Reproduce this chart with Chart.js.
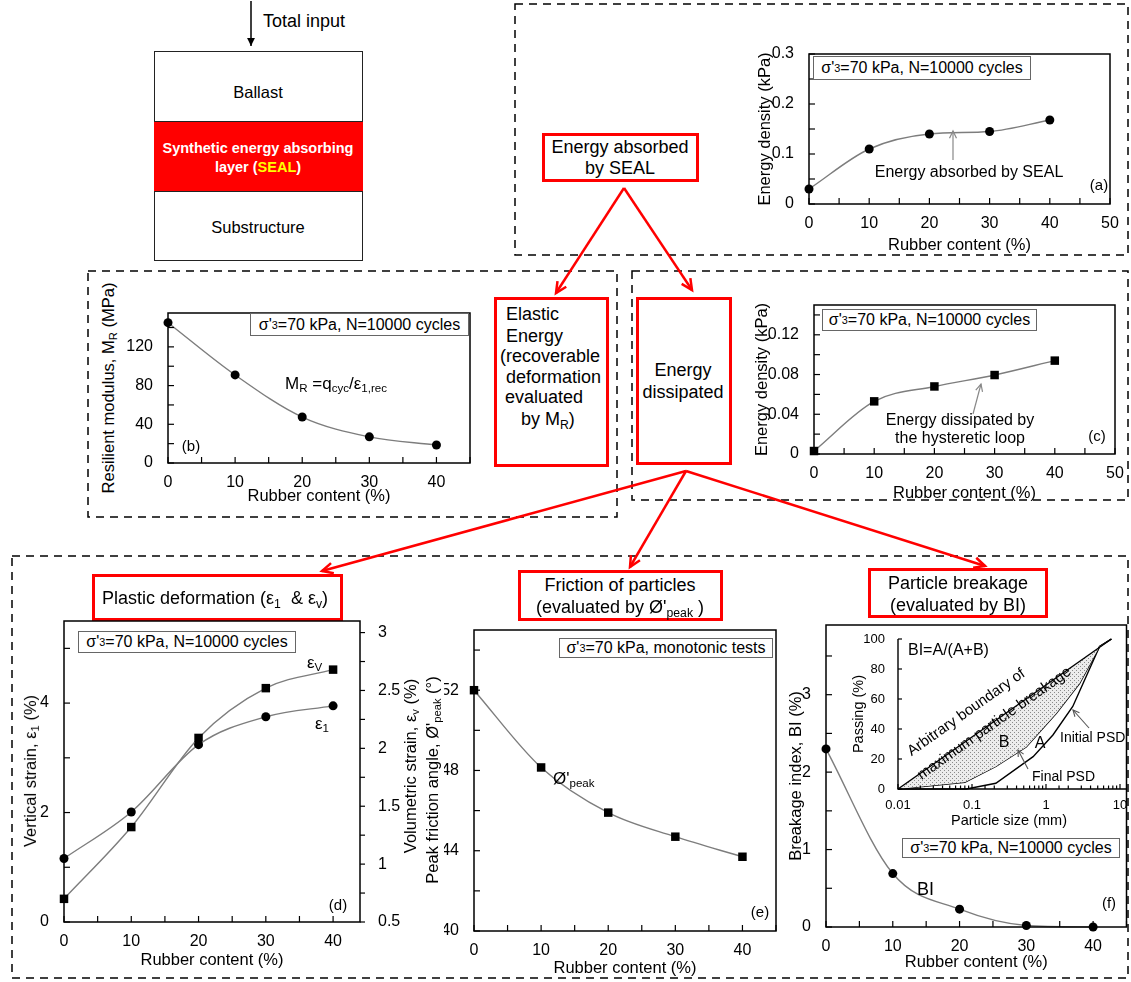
<!DOCTYPE html>
<html><head><meta charset="utf-8">
<script src="https://cdn.jsdelivr.net/npm/chart.js@4.4.1/dist/chart.umd.min.js"></script>
<style>
html,body{margin:0;padding:0;background:#fff;}
#root{position:relative;width:1131px;height:982px;overflow:hidden;font-family:"Liberation Sans",Arial,Helvetica,sans-serif;color:#000;}
canvas{position:absolute;z-index:3;}
.t{position:absolute;white-space:nowrap;line-height:1.1;}
.box{position:absolute;box-sizing:border-box;}
.note{position:absolute;box-sizing:border-box;border:1px solid #666;background:#fff;font-size:16px;white-space:nowrap;display:flex;align-items:center;justify-content:center;z-index:6;line-height:1;}
.red{position:absolute;box-sizing:border-box;border:3px solid #ff0000;background:#fff;z-index:2;}
sub{font-size:68%;vertical-align:-0.3em;line-height:0;}
svg{position:absolute;left:0;top:0;}
</style></head>
<body><div id="root"></div>
<script>
// ---------------- data ----------------
const rubberContent = [0, 10, 20, 30, 40];
const energyAbsorbed = [0.03, 0.11, 0.14, 0.145, 0.168];          // (a) kPa
const resilientModulus = [145, 91, 47.5, 27, 18.6];                // (b) MPa
const energyDissipated = [0.003, 0.053, 0.068, 0.0795, 0.094];     // (c) kPa
const verticalStrain = [1.16, 2.01, 3.24, 3.75, 3.95];             // (d) eps1 %
const volumetricStrain = [0.70, 1.32, 2.09, 2.52, 2.68];           // (d) epsv %
const peakFrictionAngle = [52.0, 48.15, 45.9, 44.7, 43.7];         // (e) deg
const breakageIndex = [2.3, 0.69, 0.23, 0.02, 0.0];                // (f) %
const boundarySize = [0.01, 7.65];
const boundaryPassing = [0, 100];
const finalPsdSize = [0.01, 0.08, 0.21, 0.54, 1.38, 2.85, 5.3, 7.65];
const finalPsdPassing = [0, 4.5, 15, 28, 50.5, 70.5, 95, 100];
const initialPsdSize = [0.01, 0.084, 0.21, 0.67, 1.24, 2.3, 5.3, 7.65];
const initialPsdPassing = [0, 0, 3.8, 21.6, 36, 55, 95, 100];
const insetSizeTicks = [0.01, 0.1, 1, 10];

// ---------------- helpers ----------------
const FONT = '"Liberation Sans", Arial, Helvetica, sans-serif';
const root = document.getElementById('root');

function el(tag, cls, css, html){
  const d=document.createElement(tag); if(cls) d.className=cls;
  Object.assign(d.style, css||{}); if(html!==undefined) d.innerHTML=html; root.appendChild(d); return d;
}
function T(html, x, y, o={}){
  const d=el('div','t',{left:x+'px',top:y+'px',fontSize:(o.fs||16)+'px',zIndex:o.z||7},html);
  let tr = o.left ? 'translate(0,-50%)' : 'translate(-50%,-50%)';
  if(o.rot) tr += ' rotate('+o.rot+'deg)';
  d.style.transform=tr;
  if(o.color) d.style.color=o.color;
  if(o.bold) d.style.fontWeight='bold';
  return d;
}
function majorCb(step){
  return function(v){ const k=v/step; return Math.abs(k-Math.round(k))<1e-6 ? String(+(+v).toFixed(4)) : ''; };
}
function logCb(v){
  const l=Math.log10(v);
  if(Math.abs(l-Math.round(l))>1e-6) return '';
  const m = insetSizeTicks.find(t=>Math.abs(Math.log10(t)-l)<1e-6);
  return m===undefined ? '' : String(m);
}
function decoPlugin(spec){
  return { id:'deco', afterDraw(chart){
    const ctx=chart.ctx, a=chart.chartArea;
    ctx.save(); ctx.strokeStyle='#000'; ctx.lineWidth=spec.lw||1.5;
    if(spec.frame){ ctx.strokeRect(a.left, a.top, a.right-a.left, a.bottom-a.top); }
    else { ctx.beginPath(); ctx.moveTo(a.left,a.top); ctx.lineTo(a.left,a.bottom); ctx.lineTo(a.right+(spec.ext||0),a.bottom); ctx.stroke(); }
    ctx.lineWidth=1.2;
    for(const t of spec.ticks){
      const s=chart.scales[t.id];
      s.ticks.forEach(tk=>{
        const p=s.getPixelForValue(tk.value);
        const len = (tk.label!=='' && tk.label!==undefined) ? t.len : (t.minor!==undefined ? t.minor : t.len);
        ctx.beginPath();
        if(t.side==='bottom'){ if(p<a.left-0.5||p>a.right+0.5) return; ctx.moveTo(p,a.bottom); ctx.lineTo(p,a.bottom-len); }
        else if(t.side==='left'){ if(p<a.top-0.5||p>a.bottom+0.5) return; ctx.moveTo(a.left,p); ctx.lineTo(a.left+len,p); }
        else if(t.side==='rightOut'){ if(p<a.top-0.5||p>a.bottom+0.5) return; ctx.moveTo(a.right,p); ctx.lineTo(a.right+len,p); }
        ctx.stroke();
      });
    }
    ctx.restore();
  }};
}
function axis(kind, o, fit){
  return {
    type:o.type||'linear', position:o.position||(kind==='x'?'bottom':'left'), min:o.min, max:o.max,
    ticks:{ stepSize:o.step, autoSkip:false, maxRotation:0, minRotation:0, includeBounds:false,
            padding:(o.pad!==undefined?o.pad:(kind==='x'?2:7)), color:'#000', font:{family:FONT,size:o.fs||16}, callback:o.cb },
    grid:{display:false}, border:{display:false},
    title: o.title ? {display:true,text:o.title,color:'#000',font:{family:FONT,size:o.tfs||16.5,lineHeight:1.2},padding:0} : {display:false},
    afterFit: fit
  };
}
function makeChart(box, plot, datasets, sc, deco){
  const cv=document.createElement('canvas');
  const W=box.r-box.l, H=box.b-box.t;
  cv.width=W; cv.height=H;
  Object.assign(cv.style,{left:box.l+'px',top:box.t+'px',width:W+'px',height:H+'px'});
  root.appendChild(cv);
  const scales={
    x: axis('x', sc.x, s=>{ s.height = box.b-plot.b; }),
    y: axis('y', sc.y, s=>{ s.width = plot.l-box.l; })
  };
  if(sc.y2) scales.y2 = axis('y', Object.assign({position:'right'}, sc.y2), s=>{ s.width = box.r-plot.r; });
  return new Chart(cv,{type:'line',data:{datasets},options:{
    responsive:false, maintainAspectRatio:false, animation:false, devicePixelRatio:1, events:[],
    layout:{padding:{left:0, right: sc.y2?0:(box.r-plot.r), top: plot.t-box.t, bottom:0}},
    plugins:{legend:{display:false}, tooltip:{enabled:false}},
    scales
  }, plugins:[decoPlugin(deco)]});
}
function series(xs, ys, style){
  return Object.assign({
    data: xs.map((x,i)=>({x, y: ys[i]})),
    borderColor:'#7d7d7d', borderWidth:1.4,
    pointBackgroundColor:'#000', pointBorderColor:'#000', pointBorderWidth:0,
    pointRadius:4.5, pointStyle:'circle',
    cubicInterpolationMode:'monotone', clip:false, fill:false
  }, style||{});
}
const SQ = {pointStyle:'rect', pointRadius:6};

// ---------------- background svg: dashed boxes ----------------
const svgBg = el('div',null,{position:'absolute',left:'0px',top:'0px',zIndex:0});
svgBg.innerHTML = '<svg width="1131" height="982" xmlns="http://www.w3.org/2000/svg">'+
 ['515,4,613,251','88,271,529,246','632,271,496,229','12,556,1116,422'].map(s=>{
   const [x,y,w,h]=s.split(','); return '<rect x="'+x+'" y="'+y+'" width="'+w+'" height="'+h+'" fill="none" stroke="#000" stroke-width="1.5" stroke-dasharray="8 6"/>';
 }).join('')+'</svg>';

// ---------------- layer diagram ----------------
el('div','box',{left:'154px',top:'51px',width:'209px',height:'210px',border:'1.5px solid #222',background:'#fff',zIndex:1});
el('div','box',{left:'154px',top:'121px',width:'209px',height:'71px',background:'#ff0000',borderTop:'1.5px solid #222',borderBottom:'1.5px solid #222',zIndex:1});
T('Ballast',258,92,{fs:16.5});
T('Synthetic energy absorbing',258,149,{fs:14.5,bold:true,color:'#fff'});
T('layer (<span style="color:#ffff00">SEAL</span>)',258,168,{fs:14.5,bold:true,color:'#fff'});
T('Substructure',258,227,{fs:16.5});
T('Total input',263,22,{fs:18,left:true});

// ---------------- red boxes ----------------
function redBox(l,t,r,b){ el('div','red',{left:l+'px',top:t+'px',width:(r-l)+'px',height:(b-t)+'px'}); }
redBox(542,133,699,182);
T('Energy absorbed',620,148,{fs:18}); T('by SEAL',620,169,{fs:18});
redBox(494,297,609,467);
[['Elastic',506,315],['Energy',506,337],['(recoverable',500,357],['deformation',506,378],['evaluated',505,398],['by M<sub>R</sub>)',521,420]]
  .forEach(([s,x,y])=>T(s,x,y,{fs:18,left:true}));
redBox(636,297,732,465);
T('Energy',683,371,{fs:18}); T('dissipated',683,393,{fs:18});
redBox(92,574,343,621);
T('Plastic deformation (ε<sub>1</sub>&nbsp; &amp; ε<sub>v</sub>)',102,599,{fs:18,left:true});
redBox(518,570,723,621);
T('Friction of particles',620,586,{fs:18}); T('(evaluated by Ø\'<sub>peak</sub> )',620,608,{fs:18});
redBox(868,568,1048,618);
T('Particle breakage',958,584,{fs:18}); T('(evaluated by BI)',958,606,{fs:18});

// ---------------- charts ----------------
// (a)
makeChart({l:756,t:34,r:1130,b:255},{l:809,t:54,r:1110,b:204},
  [series(rubberContent, energyAbsorbed)],
  {x:{min:0,max:50,step:5,cb:majorCb(10),title:'Rubber content (%)'},
   y:{min:0,max:0.3,step:0.05,cb:majorCb(0.1),title:'Energy density (kPa)'}},
  {frame:true,ticks:[{id:'x',side:'bottom',len:6},{id:'y',side:'left',len:6}]});
// (b)
makeChart({l:120,t:293,r:490,b:506},{l:168,t:313,r:470,b:463},
  [series(rubberContent, resilientModulus)],
  {x:{min:0,max:45,step:5,cb:majorCb(10),title:'Rubber content (%)'},
   y:{min:0,max:155,step:20,cb:majorCb(40)}},
  {frame:true,ticks:[{id:'x',side:'bottom',len:6},{id:'y',side:'left',len:6}]});
// (c)
makeChart({l:753,t:285,r:1131,b:503},{l:814,t:305,r:1115,b:454},
  [series(rubberContent, energyDissipated, SQ)],
  {x:{min:0,max:50,step:5,cb:majorCb(10),title:'Rubber content (%)'},
   y:{min:0,max:0.15,step:0.02,cb:majorCb(0.04),title:'Energy density (kPa)'}},
  {frame:true,ticks:[{id:'x',side:'bottom',len:6},{id:'y',side:'left',len:6}]});
// (d)
makeChart({l:14,t:601,r:402,b:970},{l:64,t:621,r:360,b:922},
  [series(rubberContent, verticalStrain),
   series(rubberContent, volumetricStrain, Object.assign({yAxisID:'y2'},SQ))],
  {x:{min:0,max:44,step:5,cb:majorCb(10),title:'Rubber content (%)'},
   y:{min:0,max:5.5,step:1,cb:majorCb(2)},
   y2:{min:0.5,max:3.1,step:0.25,cb:majorCb(0.5),pad:10}},
  {frame:true,ticks:[{id:'x',side:'bottom',len:6},{id:'y',side:'left',len:6},{id:'y2',side:'rightOut',len:5}]});
// (e)
makeChart({l:444,t:610,r:796,b:978},{l:474,t:630,r:776,b:931},
  [series(rubberContent, peakFrictionAngle, SQ)],
  {x:{min:0,max:45,step:5,cb:majorCb(10),title:'Rubber content (%)'},
   y:{min:40,max:55,step:2,cb:majorCb(4)}},
  {frame:true,ticks:[{id:'x',side:'bottom',len:6},{id:'y',side:'left',len:6}]});
// (f)
makeChart({l:787,t:605,r:1131,b:972},{l:826,t:625,r:1128,b:927},
  [series(rubberContent, breakageIndex)],
  {x:{min:0,max:45,step:5,cb:majorCb(10),title:'Rubber content (%)'},
   y:{min:0,max:3.9,step:0.5,cb:majorCb(1),title:'Breakage index, BI (%)'}},
  {frame:true,ticks:[{id:'x',side:'bottom',len:6},{id:'y',side:'left',len:6}]});
// (f) inset
const pc=document.createElement('canvas'); pc.width=4; pc.height=4;
const pctx=pc.getContext('2d'); pctx.fillStyle='#ececec'; pctx.fillRect(0,0,4,4);
pctx.fillStyle='#8a8a8a'; pctx.fillRect(0,0,1,1); pctx.fillRect(2,2,1,1);
const dots = pctx.createPattern(pc,'repeat');
const thin = {borderColor:'#000',borderWidth:1.4,pointRadius:0,tension:0,cubicInterpolationMode:'default'};
makeChart({l:850,t:620,r:1131,b:830},{l:898,t:639,r:1120,b:789},
  [series(boundarySize, boundaryPassing, Object.assign({fill:1, backgroundColor:dots},thin)),
   series(finalPsdSize, finalPsdPassing, thin),
   series(initialPsdSize, initialPsdPassing, thin)],
  {x:{type:'logarithmic',min:0.01,max:10,cb:logCb,fs:13,pad:1,title:'Particle size (mm)',tfs:14.5},
   y:{min:0,max:100,step:20,cb:majorCb(20),fs:13,pad:5,title:'Passing (%)',tfs:14.5}},
  {frame:false,lw:1.4,ext:7,ticks:[{id:'x',side:'bottom',len:5,minor:3.5},{id:'y',side:'left',len:4}]});

// ---------------- annotations ----------------
function note(l,t,r,b,html){ el('div','note',{left:l+'px',top:t+'px',width:(r-l)+'px',height:(b-t)+'px'},html); }
const sig = 'σ\'<sub>3</sub>=70 kPa, ';
note(813,56,1031,80, sig+'N=10000 cycles');
note(250,313,469,336, sig+'N=10000 cycles');
note(822,309,1037,331, sig+'N=10000 cycles');
note(78,631,296,653, sig+'N=10000 cycles');
note(559,638,773,658, sig+'monotonic tests');
note(902,838,1120,858, sig+'N=10000 cycles');

T('Energy absorbed by SEAL',969,172,{fs:16});
T('Energy dissipated by',960,420,{fs:16}); T('the hysteretic loop',960,438,{fs:16});
T('M<sub>R</sub> =q<sub>cyc</sub>/ε<sub>1,rec</sub>',285,384,{fs:17,left:true});
T('(a)',1099,185,{fs:15}); T('(b)',191,446,{fs:15}); T('(c)',1097,436,{fs:15});
T('(d)',338,905,{fs:15}); T('(e)',760,912,{fs:15}); T('(f)',1109,903,{fs:15});
T('ε<sub>V</sub>',307,663,{fs:17,left:true}); T('ε<sub>1</sub>',315,724,{fs:17,left:true});
T('Ø\'<sub>peak</sub>',553,779,{fs:17,left:true});
T('BI',917,890,{fs:18,left:true});
T('BI=A/(A+B)',908,650,{fs:16,left:true});
T('B',1004,742,{fs:16}); T('A',1040,743,{fs:16});
T('Initial PSD',1060,738,{fs:14,left:true}); T('Final PSD',1032,777,{fs:14,left:true});
T('Arbitrary boundary of',966,712,{fs:15,rot:-35.2});
T('maximum particle breakage',994,723,{fs:15,rot:-35.2});
// rotated y titles with subscripts
T('Resilient modulus, M<sub>R</sub> (MPa)',108,388,{fs:16.5,rot:-90});
T('Vertical strain, ε<sub>1</sub> (%)',30,771,{fs:16.5,rot:-90});
T('Volumetric strain, ε<sub>v</sub> (%)',410,766,{fs:16.5,rot:-90});
T('Peak friction angle, Ø\'<sub>peak</sub> (°)',432,780,{fs:16.5,rot:-90});

// ---------------- arrows ----------------
function arrowSvg(x1,y1,x2,y2,color,w,head,filled){
  const a=Math.atan2(y2-y1,x2-x1), s=0.45;
  const p1=[x2-head*Math.cos(a-s), y2-head*Math.sin(a-s)], p2=[x2-head*Math.cos(a+s), y2-head*Math.sin(a+s)];
  let str='<line x1="'+x1+'" y1="'+y1+'" x2="'+x2+'" y2="'+y2+'" stroke="'+color+'" stroke-width="'+w+'"/>';
  if(filled) str+='<polygon points="'+p1.join(',')+' '+x2+','+y2+' '+p2.join(',')+'" fill="'+color+'"/>';
  else str+='<polyline points="'+p1.join(',')+' '+x2+','+y2+' '+p2.join(',')+'" fill="none" stroke="'+color+'" stroke-width="'+w+'" stroke-linejoin="miter"/>';
  return str;
}
const arrows = [
  arrowSvg(251,1,251,46,'#000',1.5,9,true),
  arrowSvg(624,188,556,293,'#ff0000',2.5,12,false),
  arrowSvg(624,188,692,290,'#ff0000',2.5,12,false),
  arrowSvg(686,471,322,571,'#ff0000',2.5,12,false),
  arrowSvg(686,471,630,567,'#ff0000',2.5,12,false),
  arrowSvg(686,471,985,566,'#ff0000',2.5,12,false),
  arrowSvg(953,160,953,131,'#888',1.2,8,false),
  arrowSvg(973,414,981,384,'#888',1.2,8,false),
  arrowSvg(1089,728,1073,710,'#555',1.1,7,false),
  arrowSvg(1028,769,1018,750,'#555',1.1,7,false)
].join('');
const svgFg = el('div',null,{position:'absolute',left:'0px',top:'0px',zIndex:9,pointerEvents:'none'});
svgFg.innerHTML='<svg width="1131" height="982" xmlns="http://www.w3.org/2000/svg">'+arrows+'</svg>';
</script>
</body></html>
